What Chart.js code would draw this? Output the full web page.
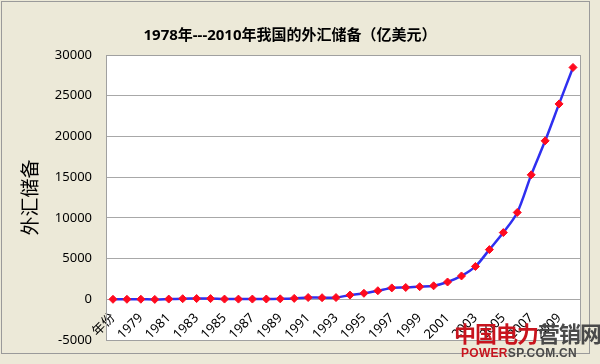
<!DOCTYPE html>
<html>
<head>
<meta charset="utf-8">
<script src="https://cdn.jsdelivr.net/npm/chart.js@4/dist/chart.umd.min.js"></script>
<style>
  html, body { margin: 0; padding: 0; background: #ECE9D8; }
  #wrap { position: relative; width: 600px; height: 364px; }
  canvas { display: block; }
  .wm1 { position: absolute; left: 454px; top: 318px; font: bold 22px 'Noto Sans CJK SC', sans-serif; letter-spacing: -1px; line-height: 28px; white-space: nowrap; }
  .wm2 { position: absolute; left: 461px; top: 346px; font: bold 12px 'Liberation Sans', sans-serif; line-height: 14px; letter-spacing: 0.3px; white-space: nowrap; }
</style>
</head>
<body>
<div id="wrap">
<canvas id="c" width="600" height="364"></canvas>
<div class="wm1"><span style="color:#C8141E">中国电力</span><span style="color:#4a4a4a">营销网</span></div>
<div class="wm2"><span style="color:#C8141E">POWER</span><span style="color:#4a4a4a">SP.COM.CN</span></div>
</div>
<script>
const categories = ['年份','1978','1979','1980','1981','1982','1983','1984','1985','1986','1987','1988','1989','1990','1991','1992','1993','1994','1995','1996','1997','1998','1999','2000','2001','2002','2003','2004','2005','2006','2007','2008','2009','2010'];
const reserves = [0,1.67,8.4,-12.96,27.08,69.86,89.01,82.2,26.44,20.72,29.23,33.72,55.5,110.93,217.12,194.43,211.99,516.2,735.97,1050.29,1398.9,1449.59,1546.75,1655.74,2121.65,2864.07,4032.51,6099.32,8188.72,10663.44,15282.49,19460.3,23991.52,28473.38];
const yTicks = [-5000,0,5000,10000,15000,20000,25000,30000];

const FONT = "'Noto Sans', 'Noto Sans CJK SC', sans-serif";

const frame = {
  id: 'frame',
  beforeDraw(chart) {
    const ctx = chart.ctx, a = chart.chartArea;
    ctx.save();
    ctx.fillStyle = '#ECE9D8';
    ctx.fillRect(0, 0, chart.width, chart.height);
    ctx.strokeStyle = '#9a9a9a';
    ctx.lineWidth = 1;
    ctx.strokeRect(1.5, 1.5, 588, 352);
    ctx.fillStyle = '#ffffff';
    ctx.fillRect(a.left, a.top, a.right - a.left, a.bottom - a.top);
    ctx.restore();
  },
  afterDatasetsDraw(chart) {
    const ctx = chart.ctx, a = chart.chartArea;
    ctx.save();
    ctx.strokeStyle = '#a0a0a0';
    ctx.lineWidth = 1;
    ctx.strokeRect(Math.round(a.left) + 0.5, Math.round(a.top) + 0.5, Math.round(a.right - a.left), Math.round(a.bottom - a.top));
    ctx.restore();
  }
};

new Chart(document.getElementById('c'), {
  type: 'line',
  data: {
    labels: categories,
    datasets: [{
      data: reserves,
      borderColor: '#2F2FF0',
      borderWidth: 2.5,
      tension: 0.3,
      pointStyle: 'rectRot',
      pointRadius: 4,
      pointBackgroundColor: '#FF0A1E',
      pointBorderColor: '#FF0A1E',
      pointBorderWidth: 1
    }]
  },
  plugins: [frame],
  options: {
    responsive: false,
    animation: false,
    devicePixelRatio: 1,
    layout: { padding: { left: 0, right: 20, top: 0, bottom: 24 } },
    plugins: {
      legend: { display: false },
      tooltip: { enabled: false },
      title: {
        display: true,
        text: '1978年---2010年我国的外汇储备（亿美元）',
        color: '#000',
        font: { family: FONT, size: 15, weight: 'bold' },
        padding: { top: 27, bottom: 10 },
        align: 'center'
      }
    },
    scales: {
      x: {
        type: 'category',
        position: { y: 0 },
        offset: true,
        grid: { display: false, drawTicks: false },
        border: { display: false },
        ticks: {
          autoSkip: false,
          maxRotation: 45,
          minRotation: 45,
          padding: 11,
          color: '#000',
          font: { family: FONT, size: 13 },
          callback: (v, i) => (i % 2 === 0 ? categories[i] : '')
        }
      },
      y: {
        min: -5000,
        max: 30000,
        afterBuildTicks: (s) => { s.ticks = yTicks.map(v => ({ value: v })); },
        afterFit: (s) => { s.width = 106; },
        grid: { color: '#a8a8a8', lineWidth: 1, drawTicks: false },
        border: { display: true, color: '#a0a0a0' },
        ticks: {
          padding: 14,
          color: '#000',
          font: { family: FONT, size: 13 },
          callback: (v) => String(v)
        },
        title: {
          display: true,
          text: '外汇储备',
          color: '#000',
          font: { family: FONT, size: 19 },
          padding: { top: 20, bottom: 0 }
        }
      }
    }
  }
});
</script>
</body>
</html>
